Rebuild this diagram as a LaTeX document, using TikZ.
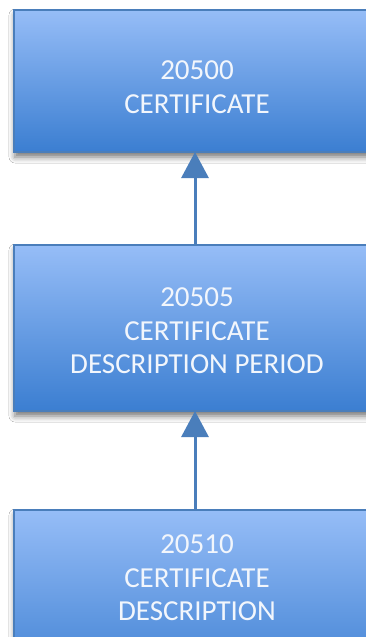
\documentclass[tikz,border=0pt]{standalone}
\usepackage{fontspec}
\setmainfont{Carlito}
\usetikzlibrary{arrows.meta,shadows.blur}
\definecolor{boxtop}{HTML}{96BDF7}
\definecolor{boxbot}{HTML}{3B7ED1}
\definecolor{boxline}{HTML}{4A7EBB}
\definecolor{arrowc}{HTML}{4A7EBB}
\definecolor{textc}{HTML}{F2F6FC}
\tikzset{
  entity/.style={draw=boxline, line width=1.2pt, top color=boxtop, bottom color=boxbot,
    blur shadow={shadow xshift=1pt, shadow yshift=-5pt, shadow blur radius=6pt, shadow opacity=55}},
  label/.style={text=textc, font=\fontsize{29}{33.5}\selectfont, align=center, inner sep=0pt},
  link/.style={draw=arrowc, line width=3pt, -{Triangle[width=27pt,length=26pt]}}
}
\begin{document}
\begin{tikzpicture}[x=1pt,y=1pt]
\useasboundingbox (0,0) rectangle (366,-637);
\clip (0,0) rectangle (366,-637);
\fill[white] (0,0) rectangle (366,-637);
\path[entity] (14,-10) rectangle (380,-152);
\path[entity] (14,-245) rectangle (380,-411);
\path[entity] (14,-510) rectangle (380,-690);
\node[label] (t) at (197,-87) {20500\\CERTIFICATE};
\node[label] (m) at (197,-331) {20505\\CERTIFICATE\\DESCRIPTION PERIOD};
\node[label] (b) at (197,-578) {20510\\CERTIFICATE\\DESCRIPTION};
\coordinate (tb) at (195,-152);
\coordinate (mt) at (195,-245);
\coordinate (mb) at (195,-411);
\coordinate (bt) at (195,-510);
\draw[link] (mt) -- (tb);
\draw[link] (bt) -- (mb);
\end{tikzpicture}
\end{document}
